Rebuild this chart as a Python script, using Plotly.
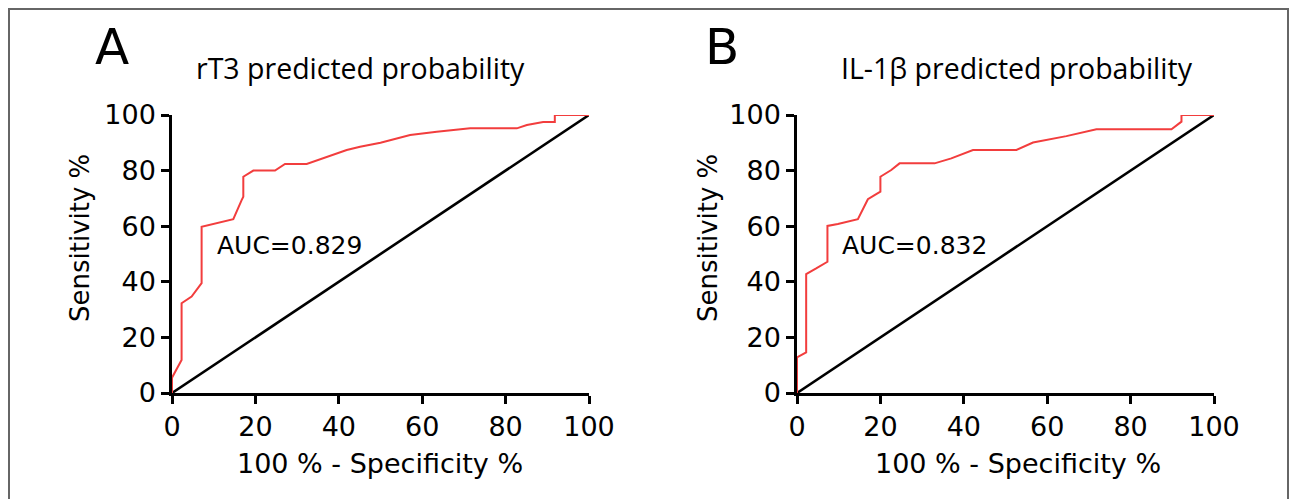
import plotly.graph_objects as go

# page body has an 8px margin; compensate so marks land at the reference pixels
OFF = 8
W, H = 1297 - OFF, 499 - OFF

# ---- data ----
a_fpr = [0, 0, 2.3, 2.3, 4.7, 7.1, 7.1, 7.9, 14.7, 16.7, 17.1, 17.1, 19.5, 24.7, 27.1,
         32.3, 34.7, 38.7, 41.9, 45.1, 50.0, 57.1, 63.5, 71.5, 82.7, 85.1, 89.0, 91.8, 91.8, 100]
a_tpr = [0, 5.5, 11.9, 32.3, 34.7, 39.5, 59.8, 60.1, 62.5, 69.4, 70.6, 77.8, 80.0, 80.0, 82.4,
         82.4, 83.6, 85.6, 87.4, 88.6, 90.0, 92.8, 94.0, 95.2, 95.2, 96.4, 97.5, 97.5, 100, 100]

b_fpr = [0, 0, 2.2, 2.2, 4.6, 7.3, 7.3, 9.8, 14.6, 17.0, 18.6, 20.0, 20.0, 22.6, 24.6,
         33.0, 37.0, 42.2, 52.6, 56.6, 64.6, 71.8, 89.8, 92.2, 92.2, 100]
b_tpr = [0, 12.8, 14.6, 42.8, 44.8, 47.2, 60.1, 60.8, 62.5, 69.7, 71.2, 72.4, 77.8, 80.2, 82.6,
         82.6, 84.4, 87.4, 87.4, 90.1, 92.4, 94.9, 94.9, 97.6, 100, 100]

ref_line = [0, 100]
ticks = [0, 20, 40, 60, 80, 100]
panel_letters = ["A", "B"]
panel_titles = ["rT3 predicted probability", "IL-1\u03b2 predicted probability"]
auc_labels = ["AUC=0.829", "AUC=0.832"]
x_title = "100 % - Specificity %"
y_title = "Sensitivity %"

RED = "#f23d3d"
NUM_FONT = "DejaVu Sans, sans-serif"
TITLE_FONT = "Open Sans, sans-serif"

fig = go.Figure()

for i, (fx, fy) in enumerate([(a_fpr, a_tpr), (b_fpr, b_tpr)]):
    xa = "x" if i == 0 else "x2"
    ya = "y" if i == 0 else "y2"
    fig.add_trace(go.Scatter(x=ref_line, y=ref_line, mode="lines",
                             line=dict(color="black", width=2.6),
                             xaxis=xa, yaxis=ya, showlegend=False, hoverinfo="skip"))
    fig.add_trace(go.Scatter(x=fx, y=fy, mode="lines",
                             line=dict(color=RED, width=2),
                             xaxis=xa, yaxis=ya, showlegend=False))

def px(x):
    return (x - OFF) / W

def py(y):
    return 1 - (y - OFF) / H

axis_common = dict(range=[0, 100], tickvals=ticks, ticks="outside", ticklen=8,
                   tickwidth=2.5, tickcolor="black", showline=True, linecolor="black",
                   linewidth=2.5, showgrid=False, zeroline=False, automargin=False,
                   tickfont=dict(family=NUM_FONT, size=27, color="black"))

fig.update_layout(
    template="none",
    width=W, height=H,
    margin=dict(l=0, r=0, t=0, b=0, pad=0),
    paper_bgcolor="white", plot_bgcolor="white",
    xaxis=dict(domain=[px(172), px(589)], anchor="y", **axis_common),
    yaxis=dict(domain=[py(393), py(115)], anchor="x", **axis_common),
    xaxis2=dict(domain=[px(797), px(1214)], anchor="y2", **axis_common),
    yaxis2=dict(domain=[py(393), py(115)], anchor="x2", **axis_common),
)

ann = []
letter_x = [112, 722]
title_x = [360, 1017]
ytitle_x = [80, 708]
xtitle_x = [380, 1018]
for i in range(2):
    ann.append(dict(text=panel_letters[i], x=px(letter_x[i]), y=py(47), xref="paper", yref="paper",
                    showarrow=False, xanchor="center", yanchor="middle",
                    font=dict(family=NUM_FONT, size=50, color="black")))
    ann.append(dict(text=panel_titles[i], x=px(title_x[i]), y=py(68), xref="paper", yref="paper",
                    showarrow=False, xanchor="center", yanchor="middle",
                    font=dict(family=TITLE_FONT, size=28.5, color="black")))
    ann.append(dict(text=y_title, x=px(ytitle_x[i]), y=py(238), xref="paper", yref="paper",
                    showarrow=False, xanchor="center", yanchor="middle", textangle=-90,
                    font=dict(family=NUM_FONT, size=26, color="black")))
    ann.append(dict(text=x_title, x=px(xtitle_x[i]), y=py(463), xref="paper", yref="paper",
                    showarrow=False, xanchor="center", yanchor="middle",
                    font=dict(family=NUM_FONT, size=27, color="black")))
    ann.append(dict(text=auc_labels[i], x=10.3, y=53, xref="x" if i == 0 else "x2",
                    yref="y" if i == 0 else "y2", showarrow=False, xanchor="left",
                    yanchor="middle", font=dict(family=NUM_FONT, size=25, color="black")))
fig.update_layout(annotations=ann)

fig.add_shape(type="rect", xref="paper", yref="paper",
              x0=px(9), x1=px(1288), y0=-0.05, y1=py(9),
              line=dict(color="#666666", width=2), fillcolor="rgba(0,0,0,0)", layer="below")

fig.write_html("out.html")
